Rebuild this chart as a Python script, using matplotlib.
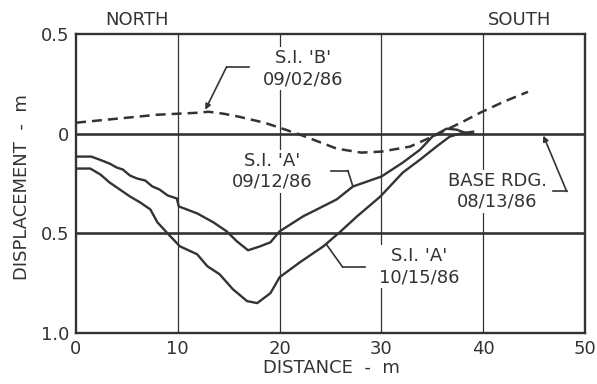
import numpy as np
import matplotlib.pyplot as plt

# distance (m) vs displacement (m)
si_b_x = [0, 2, 4, 6, 8, 10, 12, 13, 14.5, 16, 18.5, 20, 22, 23.3, 25.6,
          28, 30, 32.8, 35, 36.2, 38, 39.7, 42, 44.4]
si_b_y = [0.055, 0.065, 0.075, 0.085, 0.095, 0.10, 0.105, 0.11, 0.10, 0.085,
          0.055, 0.03, -0.005, -0.03, -0.075, -0.095, -0.09, -0.065, -0.015,
          0.015, 0.06, 0.105, 0.16, 0.21]

si_a1_x = [0, 1.5, 2.3, 3.3, 4.0, 4.6, 5.3, 6.0, 6.8, 7.5, 8.2, 9.0, 9.9,
           10.1, 11.9, 13.5, 14.8, 15.8, 16.9, 18.1, 19.1, 20, 22.3, 25.6,
           27.2, 30, 32.1, 33.8, 35, 36.4, 37.4, 38.2, 39]
si_a1_y = [-0.115, -0.115, -0.13, -0.15, -0.17, -0.18, -0.21, -0.225, -0.235,
           -0.265, -0.28, -0.31, -0.325, -0.365, -0.40, -0.445, -0.49, -0.54,
           -0.585, -0.565, -0.545, -0.49, -0.415, -0.33, -0.265, -0.215,
           -0.145, -0.08, -0.015, 0.025, 0.02, 0.005, 0.0]

si_a2_x = [0, 1.4, 2.4, 3.3, 4.3, 5.3, 6.3, 7.3, 8.0, 8.9, 10.2, 11.9, 12.9,
           14.1, 15.4, 16.8, 17.8, 19.1, 20, 22, 24.3, 26, 27.6, 29.9, 32.1,
           33.8, 35.4, 36.7, 37.7, 39]
si_a2_y = [-0.175, -0.175, -0.205, -0.245, -0.28, -0.315, -0.345, -0.38,
           -0.445, -0.495, -0.565, -0.605, -0.665, -0.705, -0.78, -0.84,
           -0.85, -0.80, -0.72, -0.645, -0.565, -0.49, -0.415, -0.315, -0.195,
           -0.13, -0.065, -0.015, 0.0, 0.01]

base_x = [0, 50]
base_y = [0, 0]

xticks = [0, 10, 20, 30, 40, 50]
yticks = [0.5, 0, -0.5, -1.0]
ytick_labels = ["0.5", "0", "0.5", "1.0"]

ink = "#333333"
fs = 13

fig = plt.figure(figsize=(5.97, 3.84), dpi=100)
ax = fig.add_axes([0.1273, 0.1328, 0.8527, 0.7787])
ax.set_xlim(0, 50)
ax.set_ylim(-1.0, 0.5)

for x in [10, 20, 30, 40]:
    ax.axvline(x, color=ink, lw=0.9, zorder=1)
ax.axhline(-0.5, color=ink, lw=1.9, zorder=2)
ax.plot(base_x, base_y, color=ink, lw=1.9, zorder=2)

ax.plot(si_b_x, si_b_y, color=ink, lw=1.8, dashes=(4, 2.4), zorder=4)
ax.plot(si_a1_x, si_a1_y, color=ink, lw=1.7, zorder=4)
ax.plot(si_a2_x, si_a2_y, color=ink, lw=1.7, zorder=4)

for s in ax.spines.values():
    s.set_linewidth(1.7)
    s.set_color(ink)

ax.set_xticks(xticks)
ax.set_xticklabels([str(t) for t in xticks], fontsize=fs, color=ink)
ax.set_yticks(yticks)
ax.set_yticklabels(ytick_labels, fontsize=fs, color=ink)
ax.tick_params(length=0, pad=5)

fig.text(0.555, 0.028, "DISTANCE  -  m", fontsize=fs, color=ink, ha="center")
fig.text(0.037, 0.513, "DISPLACEMENT  -  m", fontsize=fs, color=ink,
         rotation=90, ha="center", va="center")
fig.text(0.229, 0.935, "NORTH", fontsize=fs, color=ink, ha="center")
fig.text(0.871, 0.935, "SOUTH", fontsize=fs, color=ink, ha="center")

box = dict(fc="white", ec="none", pad=1.5)
ax.text(22.3, 0.326, "S.I. 'B'\n09/02/86", fontsize=fs, color=ink,
        ha="center", va="center", linespacing=1.2, bbox=box, zorder=3)
ax.text(19.3, -0.19, "S.I. 'A'\n09/12/86", fontsize=fs, color=ink,
        ha="center", va="center", linespacing=1.2, bbox=box, zorder=3)
ax.text(41.4, -0.29, "BASE RDG.\n08/13/86", fontsize=fs, color=ink,
        ha="center", va="center", linespacing=1.2, bbox=box, zorder=3)
ax.text(33.7, -0.667, "S.I. 'A'\n10/15/86", fontsize=fs, color=ink,
        ha="center", va="center", linespacing=1.2, bbox=box, zorder=3)

# leaders
arrow = dict(arrowstyle="-|>", color=ink, lw=1.2, mutation_scale=8,
             shrinkA=0, shrinkB=0)
line = dict(arrowstyle="-", color=ink, lw=1.2, shrinkA=0, shrinkB=0)
ax.plot([17.0, 14.8], [0.336, 0.336], color=ink, lw=1.2, zorder=3)
ax.annotate("", xy=(12.7, 0.12), xytext=(14.8, 0.336), arrowprops=arrow)
ax.plot([25.0, 26.7], [-0.185, -0.185], color=ink, lw=1.2, zorder=3)
ax.annotate("", xy=(27.2, -0.265), xytext=(26.7, -0.185), arrowprops=line)
ax.plot([46.9, 48.2], [-0.29, -0.29], color=ink, lw=1.2, zorder=3)
ax.annotate("", xy=(45.9, -0.01), xytext=(48.2, -0.29), arrowprops=arrow)
ax.plot([28.4, 26.2], [-0.67, -0.67], color=ink, lw=1.2, zorder=3)
ax.annotate("", xy=(24.6, -0.556), xytext=(26.2, -0.67), arrowprops=line)

fig.savefig("out.png", dpi=100)
